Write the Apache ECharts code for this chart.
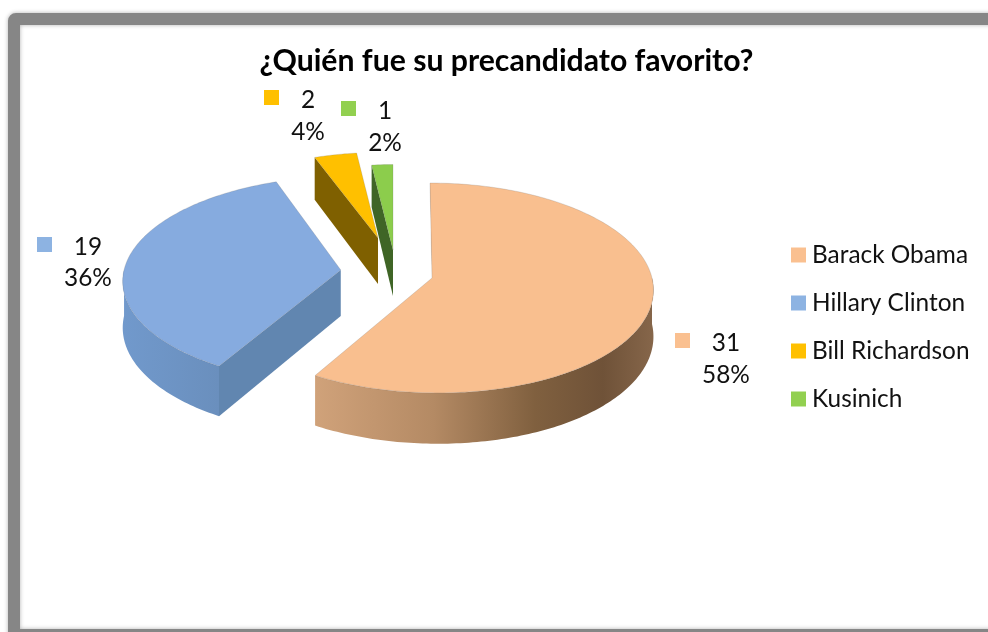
<!DOCTYPE html>
<html>
<head>
<meta charset="utf-8">
<style>html,body{margin:0;padding:0;background:#fff}#c{width:988px;height:632px}</style>
<script src="https://cdn.jsdelivr.net/npm/echarts@6/dist/echarts.min.js"></script>
</head>
<body>
<div id="c"></div>
<script>
var titleText = '¿Quién fue su precandidato favorito?';
var candidates = ['Barack Obama', 'Hillary Clinton', 'Bill Richardson', 'Kusinich'];
var votes = [31, 19, 2, 1];

// Drawing settings, kept apart from the data
var FONT = 'Lato';
var colors = ['#fac090', '#8db3e2', '#ffc000', '#92d050'];
var topColors = ['#f9bf8f', '#86abdf', '#ffc000', '#8ccd4c'];
var faceColors = ['#8a6a4f', '#6186b0', '#7f6000', '#3f6526'];
var wallStops = [
  [[0, '#d0a27a'], [0.35, '#b48a64'], [0.65, '#80603f'], [0.85, '#6f5238'], [1, '#86664a']],
  [[0, '#7199cc'], [1, '#6a8fbd']],
  [[0, '#7f6000'], [1, '#7f6000']],
  [[0, '#3f6526'], [1, '#3f6526']]
];
var centers = [[430, 278], [339, 270], [378, 238], [393, 250]];
var scales = [1, 0.985, 0.9, 0.9];
var nearShift = [8, 0, 0, 0];
var farShift = [0, 7, 0, 0];
var labelBoxes = [[675, 333, 726, 343, 375], [37, 237, 88, 247, 278], [264, 90, 308, 100, 132], [341, 101, 385, 111, 143]];
var RX = 220, RY = 104, PERSP = 0.095, DEPTH = 46;

var total = votes.reduce(function (a, b) { return a + b; }, 0);
var startAngles = [];
votes.reduce(function (acc, v, i) { startAngles[i] = acc; return acc + v / total * 360; }, 0);

function project(i, deg, r, dz) {
  var a = deg * Math.PI / 180;
  var u = Math.sin(a) * r, v = -Math.cos(a) * r;
  var w = 1 / (1 - PERSP * v);
  var s = scales[i];
  var sh = nearShift[i] * (v + 1) * (v + 1) / 4 + farShift[i] * (1 - v) * (1 - v) / 4;
  return [centers[i][0] + RX * u * w * s + sh, centers[i][1] + RY * v * w * s + dz * w];
}
function arc(i, from, to, dz) {
  var pts = [], n = Math.max(2, Math.ceil(Math.abs(to - from)));
  for (var k = 0; k <= n; k++) pts.push(project(i, from + (to - from) * k / n, 1, dz));
  return pts;
}

function renderSlice(i) {
  return function (params, api) {
    var value = api.value(0);
    var from = startAngles[i], to = from + value / total * 360;
    var children = [];
    // outer wall: the part of the rim that faces the viewer
    var wa = Math.max(from, 90), wb = Math.min(to, 270);
    if (wb > wa) {
      children.push({
        type: 'polygon', silent: true,
        shape: { points: arc(i, wa, wb, 0).concat(arc(i, wa, wb, DEPTH).reverse()) },
        style: { fill: new echarts.graphic.LinearGradient(0, 0, 1, 0, wallStops[i].map(function (s) { return { offset: s[0], color: s[1] }; })) }
      });
    }
    // radial cut faces
    [[from, -1], [to, 1]].forEach(function (e) {
      var nv = e[1] * Math.sin(e[0] * Math.PI / 180);
      if (nv > 0.01) {
        children.push({
          type: 'polygon', silent: true,
          shape: { points: [project(i, 0, 0, 0), project(i, e[0], 1, 0), project(i, e[0], 1, DEPTH), project(i, 0, 0, DEPTH)] },
          style: { fill: faceColors[i] }
        });
      }
    });
    if (from === 0) {
      var p0 = project(i, 0, 0, 0), p1 = project(i, 0, 1, 0);
      children.push({ type: 'line', silent: true, shape: { x1: p0[0] + 1, y1: p0[1], x2: p1[0] + 1, y2: p1[1] }, style: { stroke: faceColors[i], lineWidth: 1.5 } });
    }
    // top
    children.push({
      type: 'polygon', silent: true,
      shape: { points: [project(i, 0, 0, 0)].concat(arc(i, from, to, 0)) },
      style: { fill: topColors[i], stroke: 'rgba(110,110,110,0.35)', lineWidth: 0.6 }
    });
    // data label
    var b = labelBoxes[i];
    children.push({ type: 'rect', silent: true, shape: { x: b[0], y: b[1], width: 15, height: 15 }, style: { fill: colors[i] } });
    children.push({ type: 'text', silent: true, style: { text: String(value), x: b[2], y: b[3], align: 'center', verticalAlign: 'middle', font: '24.4px ' + FONT, fill: '#111' } });
    children.push({ type: 'text', silent: true, style: { text: Math.round(value / total * 100) + '%', x: b[2], y: b[4], align: 'center', verticalAlign: 'middle', font: '24.4px ' + FONT, fill: '#111' } });
    return { type: 'group', children: children };
  };
}

var drawOrder = [3, 2, 1, 0];
var chart = echarts.init(document.getElementById('c'), null, { renderer: 'canvas' });
chart.setOption({
  animation: false,
  backgroundColor: '#ffffff',
  title: {
    text: titleText, left: 501.5, top: 41, textAlign: 'center',
    textStyle: { fontFamily: FONT, fontWeight: 'bold', fontSize: 30.2, color: '#000' }
  },
  legend: {
    orient: 'vertical', left: 791, top: 243, icon: 'rect',
    itemWidth: 15, itemHeight: 15, itemGap: 24, padding: 0,
    data: candidates,
    textStyle: { fontFamily: FONT, fontSize: 24.4, color: '#111', padding: [0, 0, 0, 1] }
  },
  graphic: [{
    type: 'rect', silent: true, z: -1,
    shape: { x: 14, y: 19, width: 1010, height: 616, r: 2 },
    style: { fill: '#fff', stroke: '#868686', lineWidth: 12, shadowBlur: 4, shadowColor: 'rgba(0,0,0,0.3)' }
  }],
  series: candidates.map(function (name, i) {
    return {
      type: 'custom', name: name, coordinateSystem: 'none',
      z: 2 + drawOrder.indexOf(i),
      itemStyle: { color: colors[i] },
      data: [[votes[i]]],
      renderItem: renderSlice(i)
    };
  })
});
</script>
</body>
</html>
